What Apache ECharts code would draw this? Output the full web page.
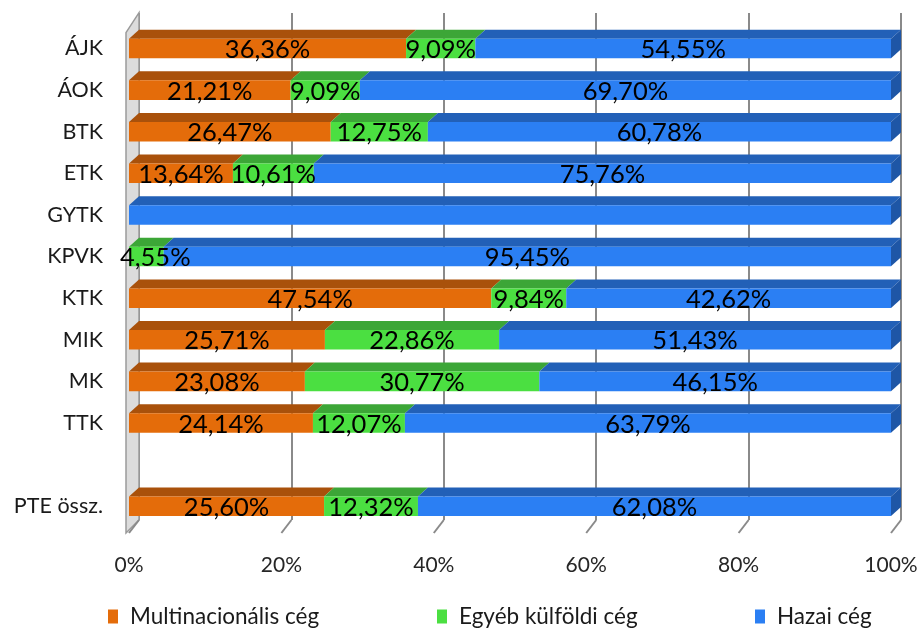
<!DOCTYPE html>
<html><head><meta charset="utf-8">
<script src="https://cdn.jsdelivr.net/npm/echarts@6/dist/echarts.min.js"></script>
<style>html,body{margin:0;padding:0;background:#fff}#c{width:918px;height:629px}</style>
</head><body><div id="c"></div>
<script>
const categories = ['ÁJK','ÁOK','BTK','ETK','GYTK','KPVK','KTK','MIK','MK','TTK','','PTE össz.'];
const multinacionalis = [36.36, 21.21, 26.47, 13.64, 0, 0, 47.54, 25.71, 23.08, 24.14, null, 25.60];
const egyebKulfoldi  = [9.09, 9.09, 12.75, 10.61, 0, 4.55, 9.84, 22.86, 30.77, 12.07, null, 12.32];
const hazai          = [54.55, 69.70, 60.78, 75.76, 100, 95.45, 42.62, 51.43, 46.15, 63.79, null, 62.08];
const seriesNames = ['Multinacionális cég', 'Egyéb külföldi cég', 'Hazai cég'];
const xTicks = [0, 20, 40, 60, 80, 100];

const FONT = 'Lato';
const LABEL_SIZE = 25.5;
const dx = 10, dy = 9;
const palette = [
  {front:'#E46C0A', top:'#A9510B', side:'#8a430a'},
  {front:'#4BDF41', top:'#3CA637', side:'#2f8a2b'},
  {front:'#2B7FF3', top:'#2260B7', side:'#1E56A6'}
];
const all = [multinacionalis, egyebKulfoldi, hazai];

// build stacked segments [start, end, catIndex, value]
const segs = [[], [], []];
categories.forEach((c, i) => {
  let acc = 0;
  all.forEach((arr, s) => {
    const v = arr[i];
    if (v == null) return;
    segs[s].push([acc, acc + v, i, v]);
    acc += v;
  });
});

function fmt(v){ return v.toFixed(2).replace('.', ',') + '%'; }
const mctx = document.createElement('canvas').getContext('2d');
function textWidth(t){ mctx.font = LABEL_SIZE + 'px ' + FONT; return mctx.measureText(t).width; }

function barRenderer(col){
  return function(params, api){
    const start = api.value(0), end = api.value(1), cat = api.value(2);
    if (end - start <= 0) return;
    const p0 = api.coord([start, cat]);
    const p1 = api.coord([end, cat]);
    const h = api.size([0, 1])[1] * 0.47;
    const yT = p0[1] - h / 2, yB = yT + h;
    const ch = [
      {type:'polygon', shape:{points:[[p0[0],yT],[p1[0],yT],[p1[0]+dx,yT-dy],[p0[0]+dx,yT-dy]]}, style:{fill:col.top}},
      {type:'rect', shape:{x:p0[0], y:yT, width:p1[0]-p0[0], height:h}, style:{fill:col.front}}
    ];
    if (end >= 99.999) {
      ch.push({type:'polygon', shape:{points:[[p1[0],yT],[p1[0]+dx,yT-dy],[p1[0]+dx,yB-dy],[p1[0],yB]]}, style:{fill:col.side}});
    }
    return {type:'group', children: ch};
  };
}

function labelRenderer(params, api){
  const start = api.value(0), end = api.value(1), cat = api.value(2), v = api.value(3);
  if (v <= 0 || v >= 100) return;
  const p0 = api.coord([start, cat]);
  const p1 = api.coord([end, cat]);
  const txt = fmt(v);
  let cx = (p0[0] + p1[0]) / 2;
  const minLeft = params.coordSys.x - 9;
  const w = textWidth(txt);
  if (cx - w / 2 < minLeft) cx = minLeft + w / 2;
  return {type:'text', style:{text: txt, x:cx, y:p0[1]+1.5, align:'center', verticalAlign:'middle', fill:'#000', fontSize:LABEL_SIZE, fontFamily:FONT}};
}

function frameRenderer(params, api){
  const v = api.value(0);
  const x = api.coord([v, 0])[0];
  const cs = params.coordSys;
  const bottom = cs.y + cs.height;
  const ch = [{type:'line', shape:{x1:x+dx, y1:bottom-7, x2:x, y2:bottom+6}, style:{stroke:'#8a8a8a', lineWidth:2}}];
  if (v === 0) {
    ch.unshift({type:'polygon', shape:{points:[[x-3, cs.y+5],[x+dx, cs.y-15],[x+dx, bottom-7],[x-3, bottom+6]]},
      style:{fill:'#dcdcdc', stroke:'#9a9a9a', lineWidth:1.5}});
  }
  return {type:'group', children: ch};
}

const series = [];
series.push({type:'custom', xAxisIndex:0, yAxisIndex:0, z:1, silent:true, renderItem: frameRenderer,
  data: xTicks.map(t => [t, 0]), encode:{x:0, y:1}});
seriesNames.forEach((name, s) => {
  series.push({type:'custom', name, xAxisIndex:0, yAxisIndex:0, z:3, renderItem: barRenderer(palette[s]),
    itemStyle:{color: palette[s].front}, data: segs[s], encode:{x:[0,1], y:2}});
});
seriesNames.forEach((name, s) => {
  series.push({type:'custom', xAxisIndex:0, yAxisIndex:0, z:10, silent:true, renderItem: labelRenderer,
    data: segs[s], encode:{x:[0,1], y:2}});
});

const legendCommon = {top:605, padding:0, itemWidth:10, itemHeight:14, icon:'rect',
  textStyle:{fontFamily:FONT, fontSize:22.5, color:'#1a1a1a', padding:[0,0,0,7]}};

const option = {
  animation:false,
  backgroundColor:'#fff',
  grid:[
    {left:129, right:27, top:27.7, bottom:102, containLabel:false, outerBoundsMode:'none'},
    {left:139, right:17, top:13, bottom:109, containLabel:false, outerBoundsMode:'none'}
  ],
  xAxis:[
    {type:'value', gridIndex:0, min:0, max:100, interval:20,
      axisLabel:{formatter:'{value}%', fontFamily:FONT, fontSize:21, color:'#262626', margin:28},
      axisLine:{show:false}, axisTick:{show:false}, splitLine:{show:false}},
    {type:'value', gridIndex:1, min:0, max:100, interval:20,
      axisLabel:{show:false}, axisLine:{show:false}, axisTick:{show:false},
      splitLine:{show:true, lineStyle:{color:'#8a8a8a', width:2}}}
  ],
  yAxis:[
    {type:'category', gridIndex:0, data:categories, inverse:true,
      axisLabel:{fontFamily:FONT, fontSize:21.5, color:'#1a1a1a', margin:26},
      axisLine:{show:false}, axisTick:{show:false}, splitLine:{show:false}},
    {type:'value', gridIndex:1, show:false, splitLine:{show:false}}
  ],
  legend:[
    Object.assign({left:108, data:[seriesNames[0]]}, legendCommon),
    Object.assign({left:437, data:[seriesNames[1]]}, legendCommon),
    Object.assign({left:755, data:[seriesNames[2]]}, legendCommon)
  ],
  series
};
const chart = echarts.init(document.getElementById('c'), null, {renderer:'canvas'});
chart.setOption(option);
</script>
</body></html>
